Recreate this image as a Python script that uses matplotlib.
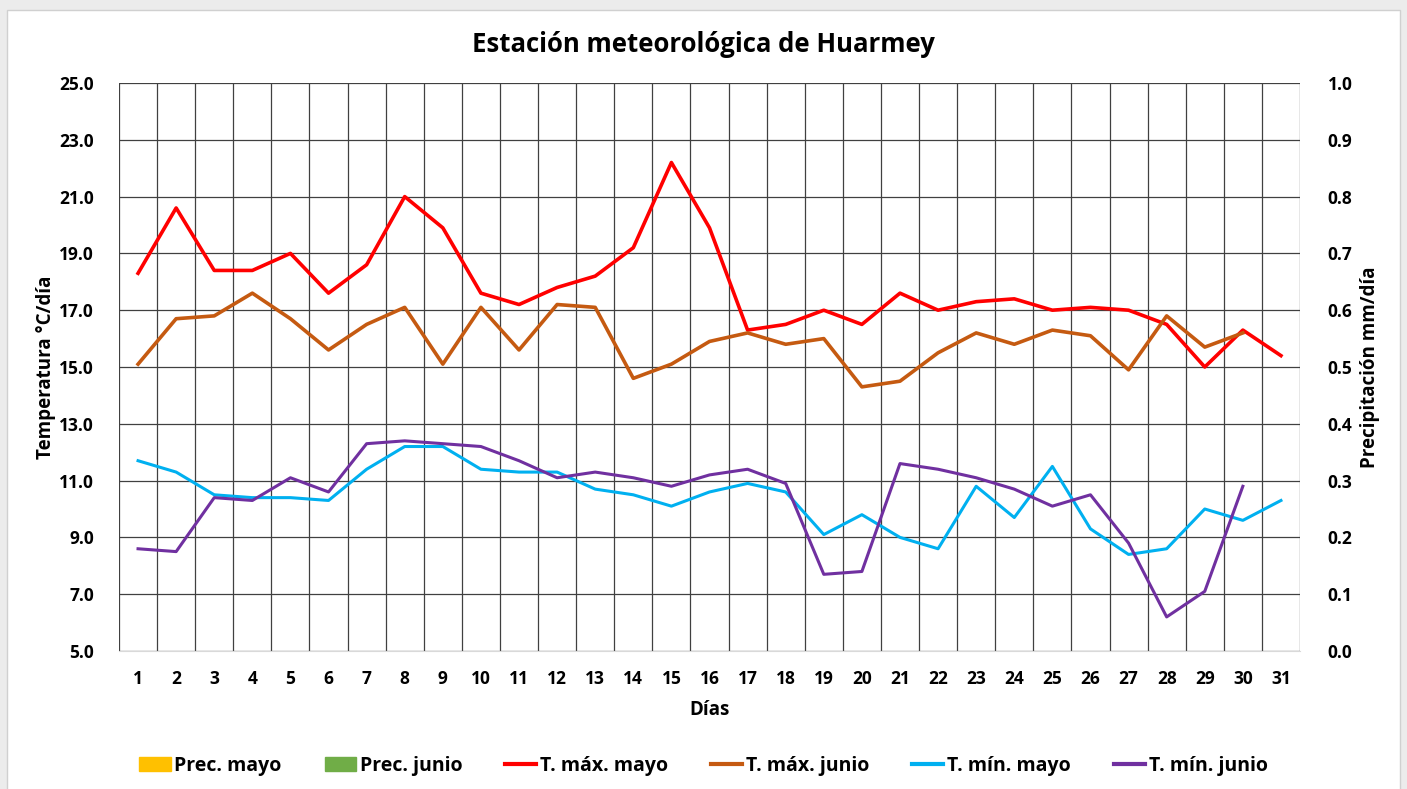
import numpy as np
import matplotlib
matplotlib.use("Agg")
import matplotlib.pyplot as plt
from matplotlib.patches import Rectangle, Patch
from matplotlib.lines import Line2D

plt.rcParams['font.family'] = ['Open Sans', 'DejaVu Sans']

dias_mayo = list(range(1, 32))
dias_junio = list(range(1, 31))

tmax_mayo = [18.3, 20.6, 18.4, 18.4, 19.0, 17.6, 18.6, 21.0, 19.9, 17.6,
             17.2, 17.8, 18.2, 19.2, 22.2, 19.9, 16.3, 16.5, 17.0, 16.5,
             17.6, 17.0, 17.3, 17.4, 17.0, 17.1, 17.0, 16.5, 15.0, 16.3, 15.4]
tmax_junio = [15.1, 16.7, 16.8, 17.6, 16.7, 15.6, 16.5, 17.1, 15.1, 17.1,
              15.6, 17.2, 17.1, 14.6, 15.1, 15.9, 16.2, 15.8, 16.0, 14.3,
              14.5, 15.5, 16.2, 15.8, 16.3, 16.1, 14.9, 16.8, 15.7, 16.2]
tmin_mayo = [11.7, 11.3, 10.5, 10.4, 10.4, 10.3, 11.4, 12.2, 12.2, 11.4,
             11.3, 11.3, 10.7, 10.5, 10.1, 10.6, 10.9, 10.6, 9.1, 9.8,
             9.0, 8.6, 10.8, 9.7, 11.5, 9.3, 8.4, 8.6, 10.0, 9.6, 10.3]
tmin_junio = [8.6, 8.5, 10.4, 10.3, 11.1, 10.6, 12.3, 12.4, 12.3, 12.2,
              11.7, 11.1, 11.3, 11.1, 10.8, 11.2, 11.4, 10.9, 7.7, 7.8,
              11.6, 11.4, 11.1, 10.7, 10.1, 10.5, 8.8, 6.2, 7.1, 10.8]
prec_mayo = [0.0] * 31
prec_junio = [0.0] * 30

c_pmayo = '#ffc000'
c_pjunio = '#70ad47'
c_tmaxm = '#ff0000'
c_tmaxj = '#c55a11'
c_tminm = '#00b0f0'
c_tminj = '#7030a0'

fig = plt.figure(figsize=(14.07, 7.89), dpi=100)
fig.patch.set_facecolor('#ececec')
fig.patches.append(Rectangle((7 / 1407, -0.01), (1400 - 7) / 1407, 1 - 10 / 789 + 0.01,
                             transform=fig.transFigure, facecolor='white',
                             edgecolor='#d0d0d0', linewidth=1, zorder=-5))

ax = fig.add_axes([119 / 1407, 1 - 651 / 789, (1300 - 119) / 1407, (651 - 83) / 789])
ax2 = ax.twinx()

# precipitation on the right axis (all zero)
ax2.bar(np.array(dias_mayo) - 0.2, prec_mayo, width=0.4, color=c_pmayo)
ax2.bar(np.array(dias_junio) + 0.2, prec_junio, width=0.4, color=c_pjunio)
ax2.set_ylim(0, 1.0)
ax2.set_yticks(np.arange(0, 1.01, 0.1))
ax2.set_yticklabels(['%.1f' % v for v in np.arange(0, 1.01, 0.1)],
                    fontsize=12.5, fontweight='bold')
ax2.set_ylabel('Precipitación mm/día', fontsize=13.5, fontweight='bold', labelpad=5)
ax2.tick_params(axis='y', length=0, pad=20)

ax.set_zorder(ax2.get_zorder() + 1)
ax.patch.set_visible(False)

ax.plot(dias_mayo, tmax_mayo, color=c_tmaxm, lw=2.6)
ax.plot(dias_junio, tmax_junio, color=c_tmaxj, lw=2.6)
ax.plot(dias_mayo, tmin_mayo, color=c_tminm, lw=2.2)
ax.plot(dias_junio, tmin_junio, color=c_tminj, lw=2.2)

ax.set_xlim(0.5, 31.5)
ax.set_ylim(5, 25)
ax.set_yticks(np.arange(5, 25.1, 2))
ax.set_yticklabels(['%.1f' % v for v in np.arange(5, 25.1, 2)],
                   fontsize=12.5, fontweight='bold')
ax.set_xticks(dias_mayo)
ax.set_xticklabels([str(d) for d in dias_mayo], fontsize=12.5, fontweight='bold')
ax.set_xticks(np.arange(0.5, 31.6, 1), minor=True)
ax.tick_params(axis='both', which='both', length=0)
ax.tick_params(axis='x', pad=14)
ax.tick_params(axis='y', pad=18)
ax.grid(True, which='major', axis='y', color='#404040', lw=0.9)
ax.grid(True, which='minor', axis='x', color='#404040', lw=0.9)
ax.set_axisbelow(True)
for s in ['top', 'left', 'right']:
    ax.spines[s].set_visible(False)
    ax2.spines[s].set_visible(False)
ax.spines['bottom'].set_color('#d9d9d9')
ax2.spines['bottom'].set_visible(False)

ax.set_xlabel('Días', fontsize=13.5, fontweight='bold', labelpad=8)
ax.set_ylabel('Temperatura °C/día', fontsize=13.5, fontweight='bold', labelpad=2)

fig.text(0.5, 1 - 45 / 789, 'Estación meteorológica de Huarmey', ha='center', va='center',
         fontsize=18.5, fontweight='bold')

handles = [Patch(color=c_pmayo), Patch(color=c_pjunio),
           Line2D([], [], color=c_tmaxm, lw=3), Line2D([], [], color=c_tmaxj, lw=3),
           Line2D([], [], color=c_tminm, lw=3), Line2D([], [], color=c_tminj, lw=3)]
labels = ['Prec. mayo', 'Prec. junio', 'T. máx. mayo', 'T. máx. junio',
          'T. mín. mayo', 'T. mín. junio']
fig.legend(handles, labels, loc='center', bbox_to_anchor=(0.5, 1 - 766 / 789), ncol=6,
           frameon=False, prop={'size': 14, 'weight': 'bold'}, handlelength=1.6,
           handletextpad=0.2, columnspacing=2.2)

fig.savefig('out.png', dpi=100, facecolor=fig.get_facecolor())
